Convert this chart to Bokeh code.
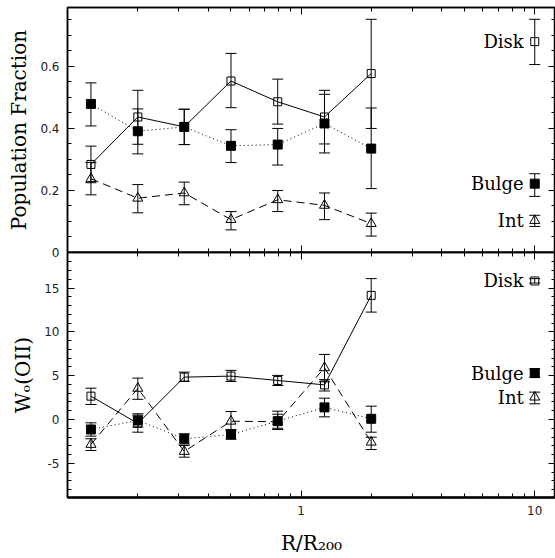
from bokeh.plotting import figure
from bokeh.layouts import column
from bokeh.models import (ColumnDataSource, Whisker, TeeHead, FixedTicker, LogAxis,
                          LinearAxis, CustomJSTickFormatter, Range1d)
from bokeh.core.properties import value
from bokeh.embed import file_html
from bokeh.resources import INLINE

# ---------------- data ----------------
r = [0.126, 0.2, 0.316, 0.501, 0.794, 1.259, 1.995]

# Population fraction (top panel)
disk_frac = [0.284, 0.437, 0.405, 0.553, 0.486, 0.437, 0.577]
disk_frac_hi = [0.343, 0.523, 0.462, 0.642, 0.559, 0.523, 0.752]
disk_frac_lo = [0.225, 0.349, 0.348, 0.467, 0.414, 0.350, 0.400]
bulge_frac = [0.479, 0.391, 0.405, 0.344, 0.348, 0.416, 0.335]
bulge_frac_hi = [0.547, 0.463, 0.462, 0.396, 0.400, 0.510, 0.466]
bulge_frac_lo = [0.408, 0.318, 0.348, 0.290, 0.282, 0.321, 0.206]
int_frac = [0.238, 0.175, 0.192, 0.106, 0.170, 0.152, 0.093]
int_frac_hi = [0.290, 0.219, 0.227, 0.132, 0.200, 0.192, 0.127]
int_frac_lo = [0.186, 0.128, 0.154, 0.073, 0.132, 0.106, 0.053]

# W_o(OII) (bottom panel)
disk_w = [2.66, -0.45, 4.83, 4.95, 4.45, 3.95, 14.16]
disk_w_hi = [3.57, 0.50, 5.40, 5.60, 5.03, 4.55, 16.07]
disk_w_lo = [1.71, -1.45, 4.34, 4.34, 3.88, 3.25, 12.25]
bulge_w = [-1.14, -0.11, -2.20, -1.71, -0.19, 1.38, 0.08]
bulge_w_hi = [-0.38, 0.65, -1.63, -1.14, 0.95, 2.43, 1.52]
bulge_w_lo = [-1.90, -0.85, -2.80, -2.25, -1.14, 0.30, -1.45]
int_w = [-2.85, 3.55, -3.65, -0.20, -0.25, 5.90, -2.59]
int_w_hi = [-2.20, 4.72, -2.97, 0.91, 0.60, 7.42, -2.02]
int_w_lo = [-3.54, 2.30, -4.30, -1.30, -1.00, 4.30, -3.43]

# key (legend) points drawn at R/R200 = 10
key_x = 10
key_names = ["Disk", "Bulge", "Int"]
key_frac = [0.680, 0.222, 0.103]
key_frac_hi = [0.752, 0.254, 0.120]
key_frac_lo = [0.606, 0.181, 0.084]
key_w = [15.80, 5.29, 2.55]
key_w_hi = [16.07, 5.79, 3.12]
key_w_lo = [15.56, 4.83, 1.79]

x_major = [1, 10]
x_minor = [0.2, 0.3, 0.4, 0.5, 0.6, 0.7, 0.8, 0.9, 2, 3, 4, 5, 6, 7, 8, 9]
frac_major = [0, 0.2, 0.4, 0.6]
frac_minor = [0.05 * i for i in range(1, 16)]
w_major = [-5, 0, 5, 10, 15]
w_minor = list(range(-8, 19))

x_title = "R/R\u2082\u2080\u2080"
y_title_top = "Population Fraction"
y_title_bottom = "W\u2092(OII)"

XR = (0.1, 12.27)
SERIF = "DejaVu Serif"
SANS = "DejaVu Sans"
GAP = 9  # overlap so that the top panel's "0" label is not cut


def style_axis(ax, major, minor, labels):
    ax.ticker = FixedTicker(ticks=major, minor_ticks=minor)
    ax.major_tick_in = 7
    ax.major_tick_out = 0
    ax.minor_tick_in = 4
    ax.minor_tick_out = 0
    ax.axis_line_color = "black"
    ax.major_tick_line_color = "black"
    ax.minor_tick_line_color = "black"
    ax.major_tick_line_width = 1
    ax.minor_tick_line_width = 1
    if labels:
        ax.formatter = CustomJSTickFormatter(code="return tick.toString()")
        ax.major_label_text_font = SANS
        ax.major_label_text_font_size = "12px"
        ax.major_label_text_color = "#222222"
    else:
        ax.formatter = CustomJSTickFormatter(code="return ''")
        ax.major_label_text_font_size = "0px"
        ax.major_label_standoff = 0


def style_title(ax, text, standoff):
    ax.axis_label = text
    ax.axis_label_text_font = SERIF
    ax.axis_label_text_font_size = "20px"
    ax.axis_label_text_font_style = "normal"
    ax.axis_label_text_color = "black"
    ax.axis_label_standoff = standoff


def make_panel(height, yr, ymaj, ymin, bottom_labels, min_top, min_bottom):
    p = figure(x_axis_type="log", x_range=Range1d(*XR), y_range=Range1d(*yr),
               width=555, height=height, output_backend="svg", toolbar_location=None,
               min_border_left=67, min_border_right=0, min_border_top=min_top,
               min_border_bottom=min_bottom)
    p.grid.visible = False
    p.outline_line_color = "black"
    p.outline_line_width = 1.5
    p.background_fill_color = "white"
    bottom = p.below[0]
    style_axis(bottom, x_major, x_minor, bottom_labels)
    bottom.axis_line_width = 2.5
    if bottom_labels:
        bottom.major_label_standoff = 8
    left = p.left[0]
    style_axis(left, ymaj, ymin, True)
    left.major_label_standoff = 8
    left.axis_line_width = 1.5
    top = LogAxis()
    style_axis(top, x_major, x_minor, False)
    top.axis_line_width = 1.5
    p.add_layout(top, "above")
    right = LinearAxis()
    style_axis(right, ymaj, ymin, False)
    right.axis_line_width = 1.5
    p.add_layout(right, "right")
    return p


def add_series(p, x, y, hi, lo, marker, size, fill, dash, draw_line=True):
    src = ColumnDataSource(dict(x=x, y=y, hi=hi, lo=lo))
    w = Whisker(source=src, base="x", upper="hi", lower="lo", line_color="black",
                line_width=1,
                upper_head=TeeHead(size=11, line_color="black", line_width=1),
                lower_head=TeeHead(size=11, line_color="black", line_width=1))
    p.add_layout(w)
    if draw_line:
        p.line("x", "y", source=src, line_color="black", line_width=1, line_dash=dash)
    p.scatter("x", "y", source=src, marker=marker, size=size, line_color="black",
              line_width=1, fill_color=fill)


def add_key(p, ys, his, los):
    specs = [("square", 8, None), ("square", 9, "black"), ("triangle", 10, None)]
    for i, (m, s, f) in enumerate(specs):
        add_series(p, [key_x], [ys[i]], [his[i]], [los[i]], m, s, f, "solid", draw_line=False)
    p.text(x=[key_x] * 3, y=ys, text=key_names, text_align="right", text_baseline="middle",
           x_offset=-11, text_font=value(SERIF), text_font_size="18px", text_color="black")


# ---------------- top panel ----------------
p1 = make_panel(7 + 245 + GAP, (0, 0.79), frac_major, frac_minor, False, 7, GAP)
p1.border_fill_color = "white"
style_title(p1.left[0], y_title_top, 6)
add_series(p1, r, disk_frac, disk_frac_hi, disk_frac_lo, "square", 8, None, "solid")
add_series(p1, r, bulge_frac, bulge_frac_hi, bulge_frac_lo, "square", 9, "black", "1 3")
add_series(p1, r, int_frac, int_frac_hi, int_frac_lo, "triangle", 10, None, "8 5")
add_key(p1, key_frac, key_frac_hi, key_frac_lo)

# ---------------- bottom panel ----------------
p2 = make_panel(245 + 61, (-8.9, 19.05), w_major, w_minor, True, 0, 61)
p2.border_fill_alpha = 0
p2.styles = {"margin-top": f"-{GAP}px"}
style_title(p2.left[0], y_title_bottom, 6)
style_title(p2.below[0], x_title, 13)
add_series(p2, r, disk_w, disk_w_hi, disk_w_lo, "square", 8, None, "solid")
add_series(p2, r, bulge_w, bulge_w_hi, bulge_w_lo, "square", 9, "black", "1 3")
add_series(p2, r, int_w, int_w_hi, int_w_lo, "triangle", 10, None, "8 5")
add_key(p2, key_w, key_w_hi, key_w_lo)

layout = column(p1, p2, spacing=0)
open("out.html", "w").write(file_html(layout, INLINE))
